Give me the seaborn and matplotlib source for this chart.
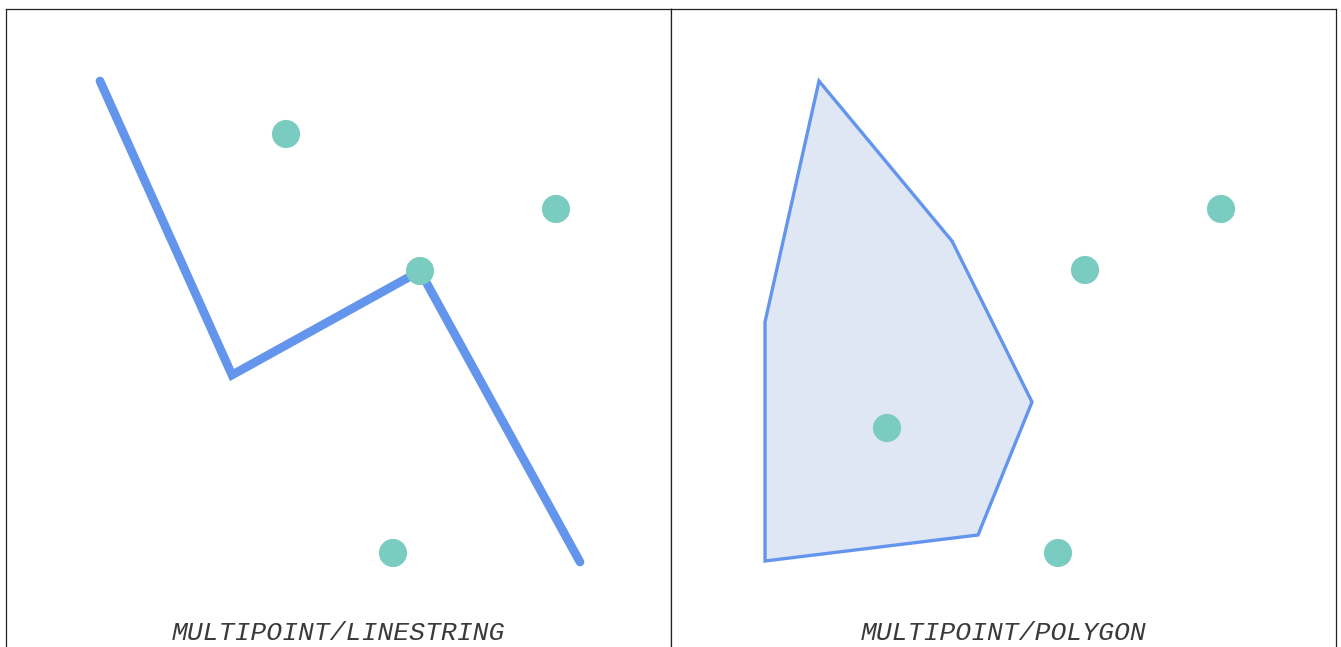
import matplotlib
matplotlib.use("Agg")
import matplotlib.pyplot as plt
import seaborn as sns
import pandas as pd

sns.set_theme(style="white")
plt.rcParams['font.family'] = ['Liberation Mono', 'DejaVu Sans Mono']

# ---- data (panel coordinates) ----
line_x = [94, 226, 414, 574]
line_y = [586, 292, 396, 105]
pts_left_x = [280, 550, 414, 387]
pts_left_y = [533, 458, 396, 114]

poly_x = [148, 281, 361, 307, 94, 94]
poly_y = [586, 426, 265, 132, 106, 345]
pts_right_x = [550, 414, 216, 387]
pts_right_y = [458, 397, 239, 114]

labels = ["MULTIPOINT/LINESTRING", "MULTIPOINT/POLYGON"]

W, H = 1341, 647
fig = plt.figure(figsize=(W / 100, H / 100), dpi=100)

PW = 665
bottom_px = -20
top_px = 9
ax_h = H - top_px - bottom_px
axL = fig.add_axes([6 / W, bottom_px / H, PW / W, ax_h / H])
axR = fig.add_axes([671 / W, bottom_px / H, PW / W, ax_h / H])

LINE_C = "#6495ED"
PT_C = "#7ACBC0"

# left panel
dfl = pd.DataFrame({"x": line_x, "y": line_y})
sns.lineplot(data=dfl, x="x", y="y", sort=False, estimator=None, ax=axL,
             color=LINE_C, linewidth=6.3, solid_capstyle="round",
             solid_joinstyle="miter", zorder=2)
dpl = pd.DataFrame({"x": pts_left_x, "y": pts_left_y})
sns.scatterplot(data=dpl, x="x", y="y", ax=axL, color=PT_C, s=410,
                edgecolor="none", zorder=3)

# right panel
axR.fill(poly_x, poly_y, facecolor="#dfe6f4", edgecolor=LINE_C,
         linewidth=2.4, joinstyle="miter", zorder=1)
dpr = pd.DataFrame({"x": pts_right_x, "y": pts_right_y})
sns.scatterplot(data=dpr, x="x", y="y", ax=axR, color=PT_C, s=410,
                edgecolor="none", zorder=3)

for ax, lab in zip([axL, axR], labels):
    ax.set_xlim(0, PW)
    ax.set_ylim(0, ax_h)
    ax.set_xlabel("")
    ax.set_ylabel("")
    ax.set_xticks([])
    ax.set_yticks([])
    for sp in ax.spines.values():
        sp.set_visible(True)
        sp.set_color("#222222")
        sp.set_linewidth(0.9)
    ax.text(PW / 2, 27, lab, ha="center", va="baseline", fontsize=19,
            style="italic", color="#3a3a3a")

fig.savefig("out.png", dpi=100)
